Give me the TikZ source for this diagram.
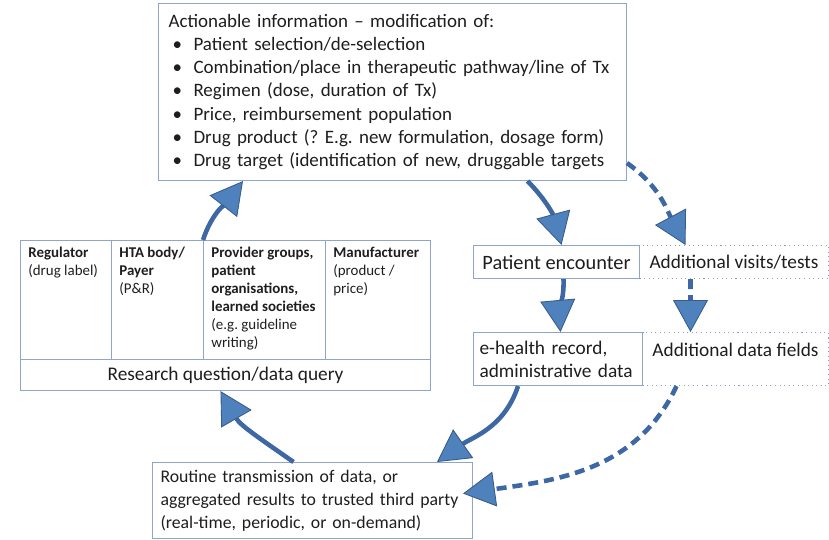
\documentclass[tikz,border=0pt]{standalone}
\usepackage{fontspec}
\setmainfont{Carlito}
\frenchspacing
\usetikzlibrary{arrows.meta}
\definecolor{flowblue}{RGB}{62,104,164}
\definecolor{headblue}{RGB}{79,129,189}
\definecolor{headedge}{RGB}{56,93,138}
\definecolor{boxline}{RGB}{143,166,204}
\definecolor{txt}{RGB}{30,30,30}
\newcommand{\bitem}{\hspace*{0.08cm}\makebox[0.42cm][l]{\textbullet}}

\begin{document}
\begin{tikzpicture}[x=0.02cm,y=0.02cm,
  every node/.style={font=\fontsize{11}{13.2}\selectfont, text=txt},
  box/.style={draw=boxline, line width=0.6pt, anchor=north west, inner sep=0pt},
  dotbox/.style={box, dotted, draw=boxline!85!gray},
  celltext/.style={anchor=north west, align=left, inner sep=0pt, font=\fontsize{8.5}{10.2}\selectfont},
  flow/.style={line width=2.6pt, draw=flowblue,
    -{Triangle[length=0.64cm,width=0.7cm,line width=0.5pt,color=headedge,fill=headblue]}},
  flowdash/.style={flow, dash pattern=on 0.2cm off 0.12cm}]
  \useasboundingbox (0,0) rectangle (829,-539);

  % actionable information
  \node[box, minimum width=9.36cm, minimum height=3.54cm, inner xsep=0.2cm,
    text width=8.96cm, align=left, font=\fontsize{10.8}{13.2}\selectfont] (info) at (158,-3)
    {Actionable information -- modification of:\\
     \bitem Patient selection/de-selection\\
     \bitem Combination/place in therapeutic pathway/line of Tx\\
     \bitem Regimen (dose, duration of Tx)\\
     \bitem Price, reimbursement population\\
     \bitem Drug product (? E.g. new formulation, dosage form)\\
     \bitem Drug target (identification of new, druggable targets};

  % stakeholders
  \node[box, minimum width=1.82cm, minimum height=2.38cm] (reg) at (20,-240) {};
  \node[box, minimum width=1.84cm, minimum height=2.38cm] (hta) at (111,-240) {};
  \node[box, minimum width=2.44cm, minimum height=2.38cm] (prov) at (203,-240) {};
  \node[box, minimum width=2.1cm, minimum height=2.38cm] (manu) at (325,-240) {};
  \node[box, minimum width=8.2cm, minimum height=0.62cm] (rq) at (20,-359) {Research question/data query};

  \node[celltext] (regtxt) at ([xshift=0.16cm,yshift=-0.14cm]reg.north west)
    {\textbf{Regulator}\\(drug label)};
  \node[celltext] (htatxt) at ([xshift=0.16cm,yshift=-0.14cm]hta.north west)
    {\textbf{HTA body/}\\\textbf{Payer}\\(P\&R)};
  \node[celltext] (provtxt) at ([xshift=0.16cm,yshift=-0.14cm]prov.north west)
    {\textbf{Provider groups,}\\\textbf{patient}\\\textbf{organisations,}\\\textbf{learned societies}\\(e.g. guideline\\writing)};
  \node[celltext] (manutxt) at ([xshift=0.16cm,yshift=-0.14cm]manu.north west)
    {\textbf{Manufacturer}\\(product /\\price)};

  % data sources
  \node[box, minimum width=3.32cm, minimum height=0.66cm,
    font=\fontsize{11.6}{13.2}\selectfont] (pe) at (473,-245) {Patient encounter};
  \node[dotbox, minimum width=3.78cm, minimum height=0.66cm] (av) at (639,-245) {Additional visits/tests};
  \node[box, minimum width=3.38cm, minimum height=1.06cm, inner xsep=0.12cm,
    text width=3.14cm, align=left] (eh) at (473,-332) {e-health record,\\administrative data};
  \node[dotbox, minimum width=3.72cm, minimum height=1.06cm] (adf) at (642,-332) {};
  \node (adftxt) at ([yshift=-0.36cm]adf.north) {Additional data fields};

  % transmission
  \node[box, minimum width=6.4cm, minimum height=1.52cm, inner xsep=0.16cm,
    text width=6.08cm, align=left, font=\fontsize{10.1}{13.2}\selectfont] (rt) at (152,-462)
    {Routine transmission of data, or\\
     aggregated results to trusted third party\\
     (real-time, periodic, or on-demand)};

  % cycle
  \draw[flow] ([xshift=2.7cm]info.south) to[out=-45,in=105] ([xshift=0.1cm]pe.north);
  \draw[flowdash] ([yshift=0.36cm]info.south east) to[out=-35,in=118] ([xshift=-0.97cm]av.north);
  \draw[flow] ([xshift=0.14cm]pe.south) to[out=-88,in=95] ([xshift=0.05cm]eh.north);
  \draw[flowdash] ([xshift=-0.87cm]av.south) -- ([xshift=-0.9cm]adf.north);
  \draw[flow] ([xshift=-0.8cm]eh.south) to[out=-108,in=35] ([xshift=-0.72cm]rt.north east);
  \draw[flowdash] ([xshift=-1.18cm]adf.south) to[out=-115,in=8] ([xshift=-0.2cm,yshift=0.14cm]rt.east);
  \draw[flow] ([xshift=-0.38cm]rt.north) to[out=145,in=-60] ([xshift=-0.1cm]rq.south);
  \draw[flow] (prov.north west) to[out=72,in=-128] ([xshift=1.7cm]info.south west);
\end{tikzpicture}
\end{document}
